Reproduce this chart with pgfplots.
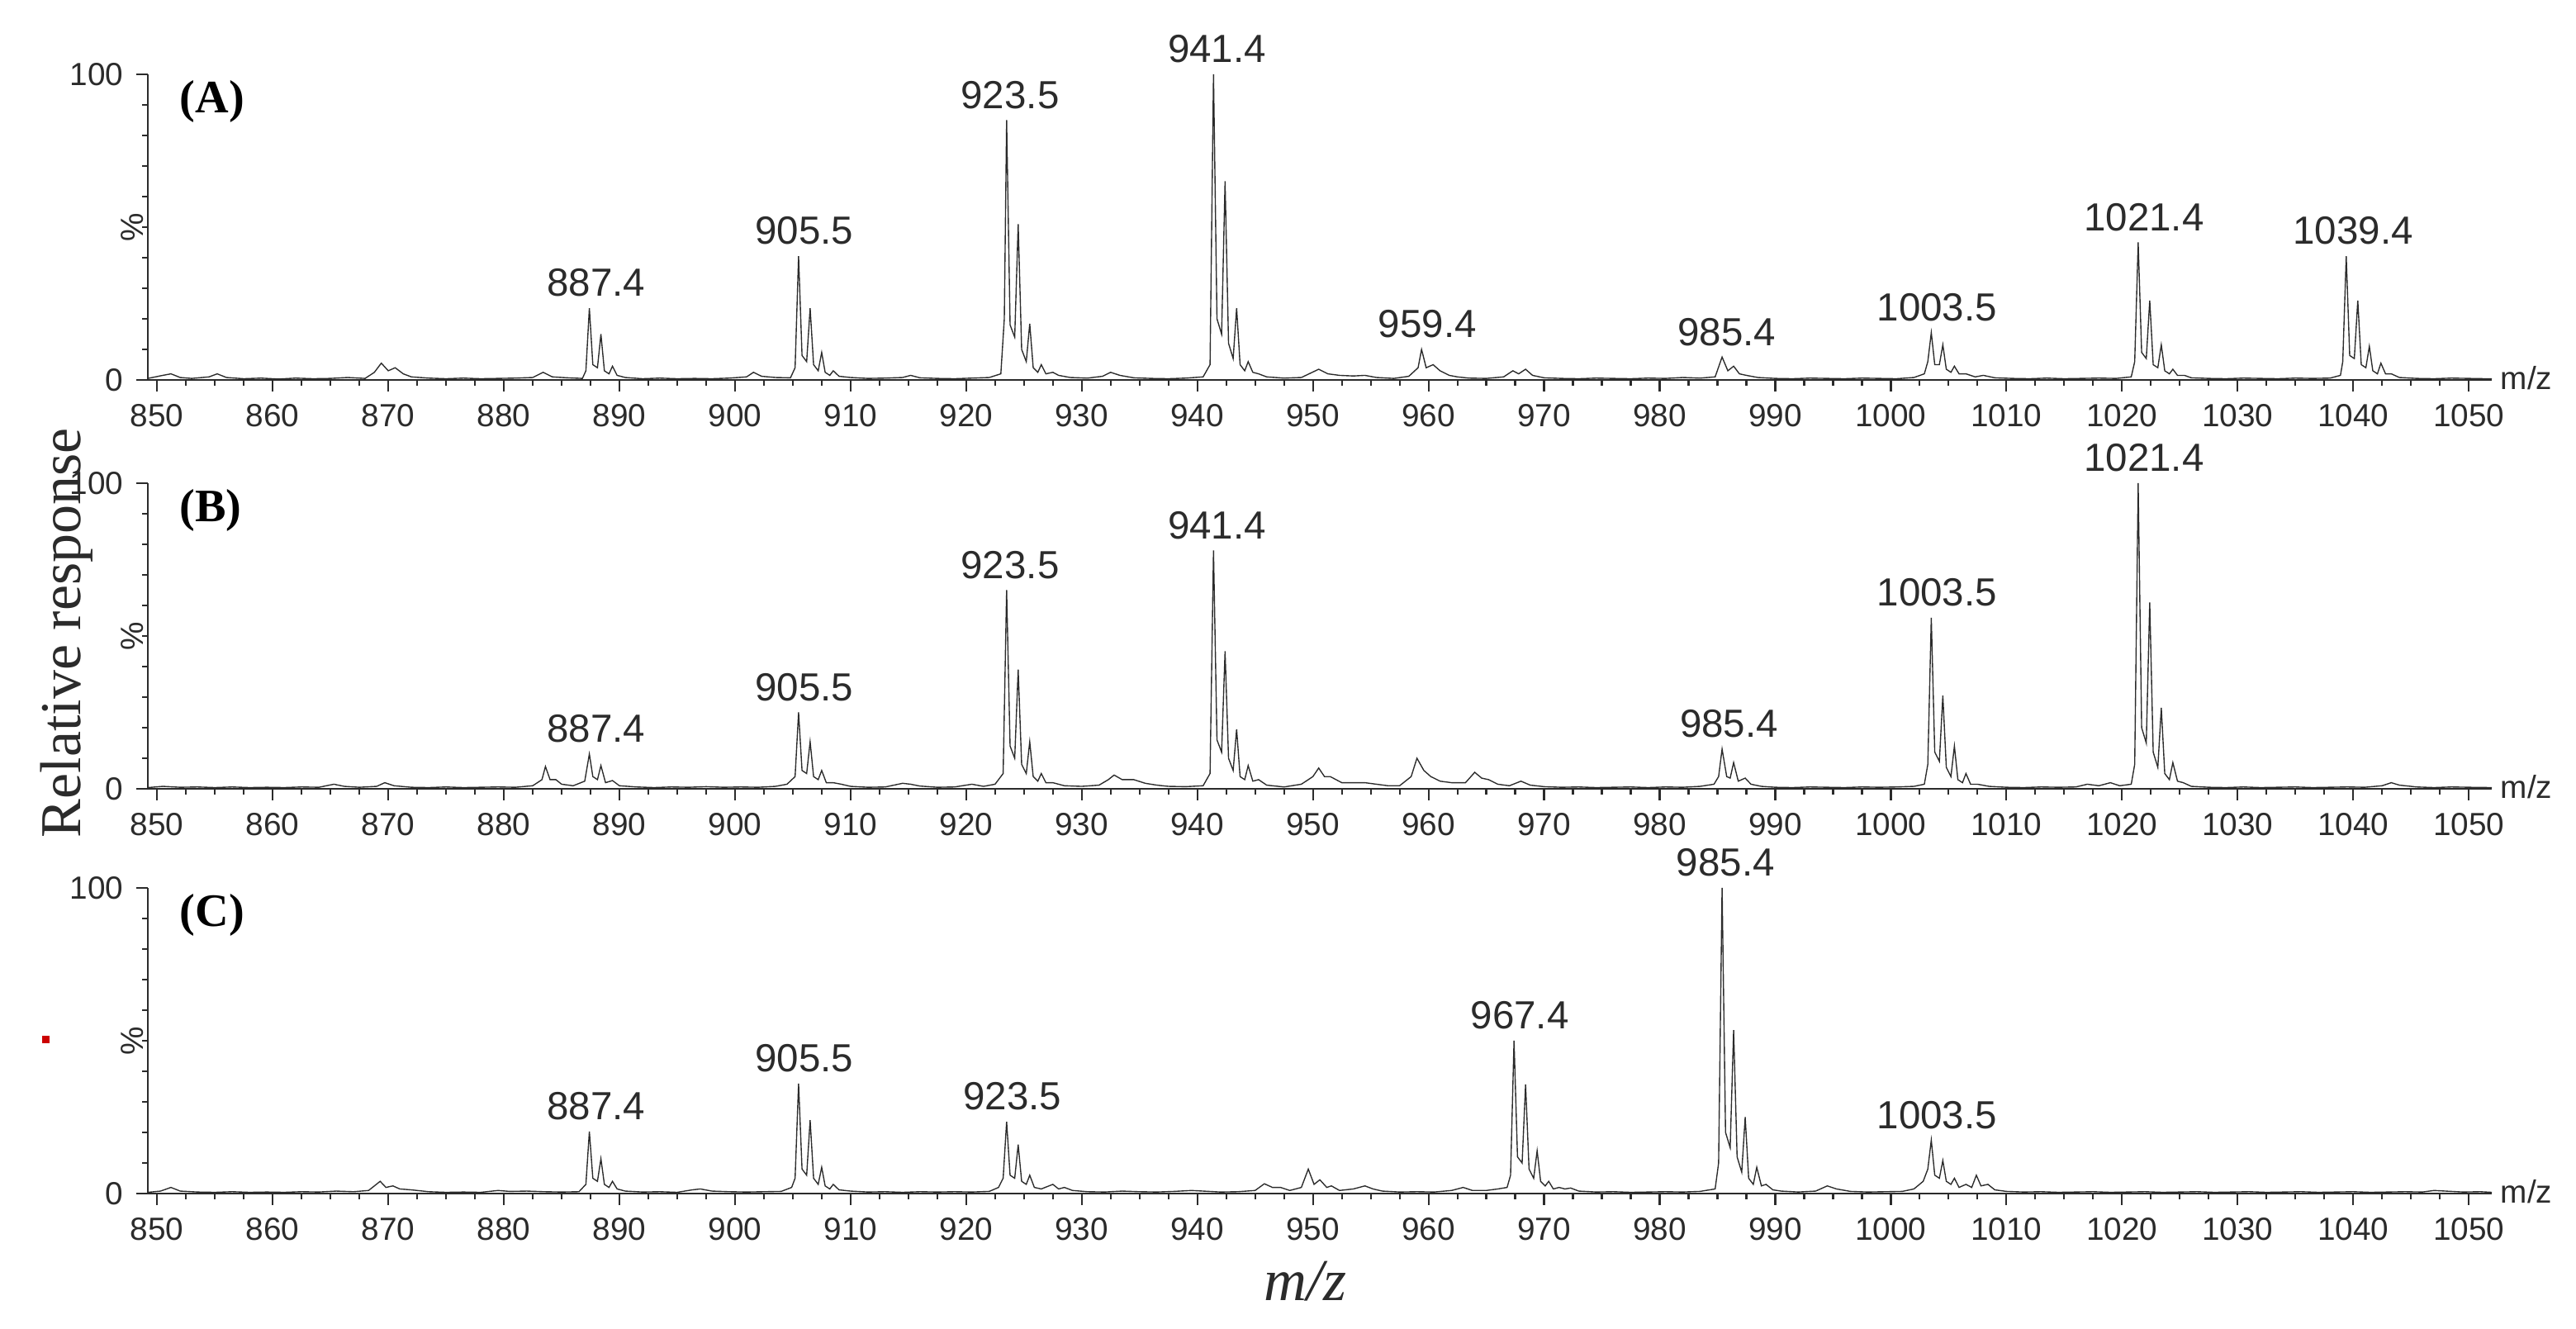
\documentclass[border=0pt]{standalone}
\usepackage{fontspec}
\setmainfont{Liberation Sans}
\newfontfamily\serif{Liberation Serif}
\usepackage{pgfplots}
\pgfplotsset{compat=1.18}

\definecolor{ink}{HTML}{2B2B2B}

\pgfplotsset{
  spec/.style={
    scale only axis, width=454.1pt, height=59.2pt,
    xmin=849.2, xmax=1052, ymin=0, ymax=100,
    axis lines*=left, clip=false,
    axis line style={line width=0.45pt, ink},
    xtick={850,860,...,1050}, minor x tick num=3,
    ytick={0,100}, minor y tick num=9,
    tick align=outside, major tick length=2.2pt, minor tick length=1.1pt,
    every tick/.style={ink, line width=0.35pt},
    tick label style={font=\fontsize{6.2}{7}\selectfont, text=ink},
    xticklabel style={yshift=1pt},
    yticklabel style={xshift=1pt},
    /pgf/number format/assume math mode=true,
    /pgf/number format/1000 sep={},
  },
  trace/.style={line width=0.22pt, ink, no marks},
}
\tikzset{
  pk/.style={anchor=south, inner sep=0pt, yshift=2pt, text=ink, font=\fontsize{7.6}{9}\selectfont},
  tag/.style={anchor=north west, inner sep=0pt, xshift=6pt, yshift=-1pt, font=\serif\bfseries\fontsize{9}{10}\selectfont},
}

\newcommand{\sidebits}{%
  \node[xshift=-3.0pt, rotate=90, inner sep=0pt, text=ink, font=\fontsize{6.2}{7}\selectfont] at (rel axis cs:0,0.5) {\%};
  \node[anchor=west, inner sep=0pt, text=ink, font=\fontsize{6.2}{7}\selectfont] at (rel axis cs:1,0) [xshift=1.5pt, yshift=0.3pt] {m/z};
}

\begin{document}
\begin{tikzpicture}
\useasboundingbox (-28.64pt,-26.24pt) rectangle (470.4pt,231.2pt);

% (A)
\begin{axis}[spec, at={(0pt,157.6pt)}]
\addplot[trace] coordinates {
(849.2,0.5)(850.5,1.5)(851.2,2.0)(852.0,0.8)(853.0,0.5)(854.5,1.0)(855.2,2.0)(856.0,0.8)
(857.5,0.4)(859.0,0.6)(860.5,0.3)(862.0,0.6)(863.5,0.4)(865.0,0.5)(866.5,0.8)(868.0,0.5)
(868.8,2.5)(869.4,5.5)(870.0,3.0)(870.6,4.0)(871.3,2.0)(872.0,1.0)(873.5,0.6)(875.0,0.4)
(876.5,0.6)(878.0,0.4)(879.5,0.5)(881.0,0.6)(882.5,0.8)(883.4,2.5)(884.2,1.0)(885.5,0.7)
(886.8,0.5)(887.1,3)(887.4,23.5)(887.7,5)(888.1,4)(888.4,15)(888.7,3)(889.1,2)(889.4,4.5)
(889.8,1.5)(890.5,0.8)(892.0,0.4)(893.5,0.6)(895.0,0.4)(896.5,0.5)(898.0,0.4)(899.5,0.6)
(901.0,1.0)(901.6,2.5)(902.3,1.2)(903.5,0.8)(904.8,0.7)(905.2,4)(905.5,40.5)(905.8,8)
(906.2,6)(906.5,23.5)(906.8,5)(907.2,3)(907.5,9)(907.8,2.5)(908.2,1.5)(908.5,3)(909.0,1.2)
(910.0,0.8)(911.5,0.5)(913.0,0.6)(914.5,0.8)(915.2,1.5)(916.0,0.7)(917.5,0.5)(919.0,0.4)
(920.5,0.6)(922.0,0.8)(923.0,2)(923.3,20)(923.5,85)(923.8,18)(924.2,14)(924.5,51)(924.8,10)
(925.2,6)(925.5,18.4)(925.8,4)(926.2,2.5)(926.5,5)(926.9,2)(927.5,2.5)(928.0,1.5)(929.0,0.8)
(930.5,0.6)(931.8,1.2)(932.5,2.5)(933.3,1.5)(934.5,0.7)(936.0,0.5)(937.5,0.4)(939.0,0.6)
(940.5,1.0)(941.1,5)(941.4,100)(941.7,20)(942.1,15)(942.4,65)(942.7,12)(943.1,7)(943.4,23.5)
(943.7,5)(944.1,3)(944.4,6)(944.8,2.5)(945.3,2)(946.0,1)(947.5,0.6)(949.0,0.8)(950.5,3.5)
(951.3,2)(952.3,1.5)(953.5,1.3)(954.5,1.5)(955.5,0.8)(957.0,0.5)(958.3,1.2)(959.1,4)
(959.4,10)(959.8,4)(960.4,5)(961.0,3)(961.8,1.5)(962.5,1)(963.5,0.6)(965.0,0.5)(966.5,1)
(967.3,3)(967.8,2)(968.4,3.5)(969.0,1.5)(970.0,0.7)(971.5,0.5)(973.0,0.4)(974.5,0.6)
(976.0,0.5)(977.5,0.4)(979.0,0.6)(980.5,0.5)(982.0,0.8)(983.5,0.6)(984.8,1)(985.4,7.5)
(985.9,3)(986.4,4.5)(986.9,2)(987.5,1.5)(988.5,0.8)(990.0,0.5)(991.5,0.4)(993.0,0.6)
(994.5,0.5)(996.0,0.4)(997.5,0.6)(999.0,0.5)(1000.5,0.4)(1002.0,0.8)(1002.9,2)(1003.2,6)
(1003.5,15.5)(1003.8,5)(1004.2,5)(1004.5,11.5)(1004.8,3.5)(1005.2,2.5)(1005.5,4.5)
(1005.9,2)(1006.5,2)(1007.3,1)(1008.0,1.5)(1009.0,0.7)(1010.5,0.5)(1012.0,0.4)(1013.5,0.6)
(1015.0,0.4)(1016.5,0.5)(1018.0,0.6)(1019.5,0.5)(1020.8,1)(1021.1,6)(1021.4,45)(1021.7,9)
(1022.1,7)(1022.4,26)(1022.7,5)(1023.1,4)(1023.4,11.5)(1023.7,3)(1024.1,2)(1024.4,3.5)
(1024.8,1.5)(1025.4,1.5)(1026.0,0.7)(1027.5,0.5)(1029.0,0.4)(1030.5,0.6)(1032.0,0.5)
(1033.5,0.4)(1035.0,0.6)(1036.5,0.5)(1038.0,0.6)(1038.9,1.5)(1039.1,6)(1039.4,40.5)
(1039.7,8)(1040.1,7)(1040.4,26)(1040.7,5)(1041.1,4)(1041.4,11)(1041.7,3)(1042.1,2)
(1042.4,5.5)(1042.8,2)(1043.3,2)(1044.0,0.8)(1045.5,0.5)(1047.0,0.4)(1048.5,0.6)
(1050.0,0.5)(1051.5,0.4)(1052.0,0.4)
};
\node[pk] at (axis cs:888.0,23.5) {887.4};
\node[pk] at (axis cs:906.0,40.5) {905.5};
\node[pk] at (axis cs:923.8,85) {923.5};
\node[pk] at (axis cs:941.7,100) {941.4};
\node[pk] at (axis cs:959.9,10) {959.4};
\node[pk] at (axis cs:985.8,7.5) {985.4};
\node[pk] at (axis cs:1004.0,15.5) {1003.5};
\node[pk] at (axis cs:1021.9,45) {1021.4};
\node[pk] at (axis cs:1040.0,40.5) {1039.4};
\node[tag] at (rel axis cs:0,1) {(A)};
\sidebits
\end{axis}

% (B)
\begin{axis}[spec, at={(0pt,78.4pt)}]
\addplot[trace] coordinates {
(849.2,0.4)(850.5,0.8)(852.0,0.5)(853.5,0.6)(855.0,0.4)(856.5,0.6)(858.0,0.4)(859.5,0.5)
(861.0,0.4)(862.5,0.6)(864.0,0.5)(865.3,1.5)(866.2,0.8)(867.5,0.5)(869.0,0.8)(869.7,2)
(870.5,1)(872.0,0.5)(873.5,0.4)(875.0,0.6)(876.5,0.4)(878.0,0.5)(879.5,0.6)(881.0,0.5)
(882.5,1)(883.3,3)(883.6,7.3)(884.0,3)(884.5,3)(885.0,1.5)(886.0,1)(887.0,2.5)(887.4,11.4)
(887.7,4)(888.1,3)(888.4,7.6)(888.8,2)(889.4,2.7)(890.0,1)(891.5,0.6)(893.0,0.4)(894.5,0.6)
(896.0,0.5)(897.5,0.7)(899.0,0.5)(900.5,0.6)(902.0,0.5)(903.5,0.8)(904.5,1.5)(905.2,4)
(905.5,25)(905.8,6)(906.2,5)(906.5,15.4)(906.8,4)(907.2,3)(907.5,6)(907.9,2)(908.5,2)
(909.2,1.5)(910.0,0.8)(911.5,0.5)(913.0,0.6)(914.5,1.8)(915.2,1.5)(916.0,0.9)(917.5,0.5)
(919.0,0.6)(920.5,1.5)(921.5,0.8)(922.5,1.5)(923.2,5)(923.5,65)(923.8,14)(924.2,10)
(924.5,39)(924.8,8)(925.2,5)(925.5,15.4)(925.8,4)(926.2,2.5)(926.5,5)(926.9,2)(927.5,2)
(928.5,1)(930.0,0.8)(931.5,1.2)(932.3,3)(932.8,4.5)(933.5,3)(934.5,3)(935.5,1.8)(936.5,1.2)
(937.5,0.8)(939.0,0.7)(940.5,1)(941.1,5)(941.4,78)(941.7,16)(942.1,12)(942.4,45)(942.7,10)
(943.1,6)(943.4,19.5)(943.7,4)(944.1,3)(944.4,7.6)(944.8,2.5)(945.3,3)(946.0,1.2)(947.5,0.6)
(949.0,1.5)(950.0,4)(950.5,6.8)(951.0,4)(951.5,4)(952.5,2)(953.5,2)(954.5,2)(955.5,1.5)
(956.5,1)(957.5,1)(958.5,4)(959.0,10)(959.6,6)(960.2,4)(961.0,2.5)(962.0,2)(963.2,2)
(964.0,5.4)(964.6,3.5)(965.2,3)(966.0,1.5)(967.0,1)(968.0,2.5)(968.8,1.2)(970.0,0.7)
(971.5,0.5)(973.0,0.6)(974.5,0.4)(976.0,0.5)(977.5,0.6)(979.0,0.4)(980.5,0.6)(982.0,0.5)
(983.5,0.8)(984.7,1.5)(985.1,4)(985.4,13)(985.8,4)(986.1,3.5)(986.4,8.6)(986.8,2.5)
(987.4,3.5)(987.9,1.5)(988.8,0.8)(990.0,0.5)(991.5,0.4)(993.0,0.6)(994.5,0.5)(996.0,0.4)
(997.5,0.6)(999.0,0.5)(1000.5,0.6)(1002.0,0.8)(1002.9,1.5)(1003.2,8)(1003.5,56)(1003.8,12)
(1004.2,9)(1004.5,30.5)(1004.8,7)(1005.2,4)(1005.5,14)(1005.8,3)(1006.2,2)(1006.5,5)
(1006.9,1.5)(1007.5,1.5)(1008.5,0.8)(1010.0,0.5)(1011.5,0.4)(1013.0,0.6)(1014.5,0.5)
(1016.0,0.6)(1017.0,1.5)(1018.0,1)(1019.0,2)(1019.8,1)(1020.8,1.5)(1021.1,8)(1021.4,100)
(1021.7,20)(1022.1,15)(1022.4,61)(1022.7,12)(1023.1,7)(1023.4,26.5)(1023.7,5)(1024.1,3)
(1024.4,8.6)(1024.8,2.5)(1025.3,2)(1026.0,0.8)(1027.5,0.5)(1029.0,0.4)(1030.5,0.6)
(1032.0,0.4)(1033.5,0.5)(1035.0,0.6)(1036.5,0.4)(1038.0,0.5)(1039.5,0.6)(1041.0,0.5)
(1042.5,1)(1043.3,2)(1044.0,1.2)(1045.5,0.6)(1047.0,0.4)(1048.5,0.6)(1050.0,0.5)(1052.0,0.4)
};
\node[pk] at (axis cs:888.0,11.4) {887.4};
\node[pk] at (axis cs:906.0,25) {905.5};
\node[pk] at (axis cs:923.8,65) {923.5};
\node[pk] at (axis cs:941.7,78) {941.4};
\node[pk] at (axis cs:986.0,13) {985.4};
\node[pk] at (axis cs:1004.0,56) {1003.5};
\node[pk] at (axis cs:1021.9,100) {1021.4};
\node[tag] at (rel axis cs:0,1) {(B)};
\sidebits
\end{axis}

% (C)
\begin{axis}[spec, at={(0pt,0pt)}]
\addplot[trace] coordinates {
(849.2,0.4)(850.3,0.8)(851.2,2)(852.0,0.8)(853.5,0.5)(855.0,0.4)(856.5,0.6)(858.0,0.4)
(859.5,0.5)(861.0,0.4)(862.5,0.6)(864.0,0.5)(865.5,0.8)(867.0,0.6)(868.3,1)(869.3,4)
(869.8,2)(870.4,2.5)(871.0,1.5)(872.0,1.2)(873.5,0.6)(875.0,0.4)(876.5,0.5)(878.0,0.4)
(879.5,1)(880.5,0.7)(882.0,0.8)(883.5,0.6)(885.0,0.5)(886.5,0.6)(887.1,3)(887.4,20.3)
(887.7,5)(888.1,4)(888.4,11.4)(888.7,3)(889.1,2)(889.4,4)(889.8,1.5)(890.5,0.8)(892.0,0.5)
(893.5,0.6)(895.0,0.4)(896.3,1.2)(897.0,1.5)(898.0,0.8)(899.5,0.6)(901.0,0.5)(902.5,0.6)
(904.0,0.7)(904.9,2)(905.2,5)(905.5,36)(905.8,8)(906.2,6)(906.5,24)(906.8,5)(907.2,3)
(907.5,8.6)(907.8,2.5)(908.2,1.5)(908.5,3)(909.0,1.2)(910.0,0.8)(911.5,0.5)(913.0,0.6)
(914.5,0.4)(916.0,0.6)(917.5,0.5)(919.0,0.6)(920.5,0.5)(922.0,0.7)(922.8,2)(923.2,5)
(923.5,23.5)(923.8,6)(924.2,5)(924.5,16)(924.8,4)(925.2,3)(925.5,6)(925.9,2)(926.5,1.5)
(927.5,3)(928.0,1.5)(928.5,2)(929.2,1)(930.5,0.6)(932.0,0.5)(933.5,0.8)(935.0,0.6)
(936.5,0.5)(938.0,0.7)(939.5,1)(940.5,0.8)(942.0,0.5)(943.5,0.6)(945.0,1)(945.8,3.2)
(946.5,2)(947.2,2)(948.0,1)(949.0,2)(949.6,8)(950.1,3)(950.6,4.5)(951.2,2)(951.6,2.5)
(952.3,1)(953.5,1.5)(954.5,2.5)(955.2,1.5)(956.0,0.8)(957.5,0.5)(959.0,0.6)(960.5,0.5)
(962.0,1)(963.0,2)(963.8,1)(965.0,1)(966.0,1.5)(966.8,2)(967.1,6)(967.4,50)(967.7,12)
(968.1,10)(968.4,35.7)(968.7,8)(969.1,5)(969.4,14)(969.7,4)(970.1,2.5)(970.4,4)(970.8,1.5)
(971.3,2)(971.8,1.5)(972.3,1.8)(973.0,0.8)(974.5,0.5)(976.0,0.6)(977.5,0.4)(979.0,0.5)
(980.5,0.6)(982.0,0.5)(983.5,0.7)(984.8,1.5)(985.1,10)(985.4,100)(985.7,20)(986.1,15)
(986.4,53.5)(986.7,12)(987.1,7)(987.4,25)(987.7,5)(988.1,3)(988.4,8.6)(988.8,2.5)(989.2,3)
(989.8,1.2)(990.5,0.8)(992.0,0.5)(993.5,0.8)(994.5,2.5)(995.3,1.5)(996.5,0.7)(998.0,0.5)
(999.5,0.6)(1001.0,0.7)(1002.0,1.5)(1002.8,4)(1003.2,8)(1003.5,17.5)(1003.8,6)(1004.2,5)
(1004.5,10.8)(1004.8,4)(1005.2,3)(1005.5,5)(1005.9,2)(1006.5,3)(1007.0,2)(1007.4,6)
(1007.8,2.5)(1008.4,3)(1009.0,1.2)(1010.0,0.7)(1011.5,0.5)(1013.0,0.6)(1014.5,0.4)
(1016.0,0.5)(1017.5,0.6)(1019.0,0.4)(1020.5,0.5)(1022.0,0.6)(1023.5,0.4)(1025.0,0.5)
(1026.5,0.6)(1028.0,0.4)(1029.5,0.5)(1031.0,0.6)(1032.5,0.4)(1034.0,0.5)(1035.5,0.6)
(1037.0,0.4)(1038.5,0.5)(1040.0,0.6)(1041.5,0.4)(1043.0,0.5)(1044.5,0.6)(1046.0,0.5)
(1047.0,1)(1048.0,0.8)(1049.5,0.5)(1051.0,0.6)(1052.0,0.4)
};
\node[pk] at (axis cs:888.0,20.3) {887.4};
\node[pk] at (axis cs:906.0,36) {905.5};
\node[pk] at (axis cs:924.0,23.5) {923.5};
\node[pk] at (axis cs:967.9,50) {967.4};
\node[pk] at (axis cs:985.7,100) {985.4};
\node[pk] at (axis cs:1004.0,17.5) {1003.5};
\node[tag] at (rel axis cs:0,1) {(C)};
\sidebits
\end{axis}

\node[rotate=90, inner sep=0pt, font=\serif\fontsize{11.2}{13}\selectfont, text=ink] at (-15.8pt,108.6pt) {Relative response};
\node[inner sep=0pt, font=\serif\itshape\fontsize{11.5}{13}\selectfont, text=ink] at (224.3pt,-17pt) {m/z};
\fill[red!80!black] (-20.4pt,29.1pt) rectangle (-19.0pt,30.5pt);
\end{tikzpicture}
\end{document}
